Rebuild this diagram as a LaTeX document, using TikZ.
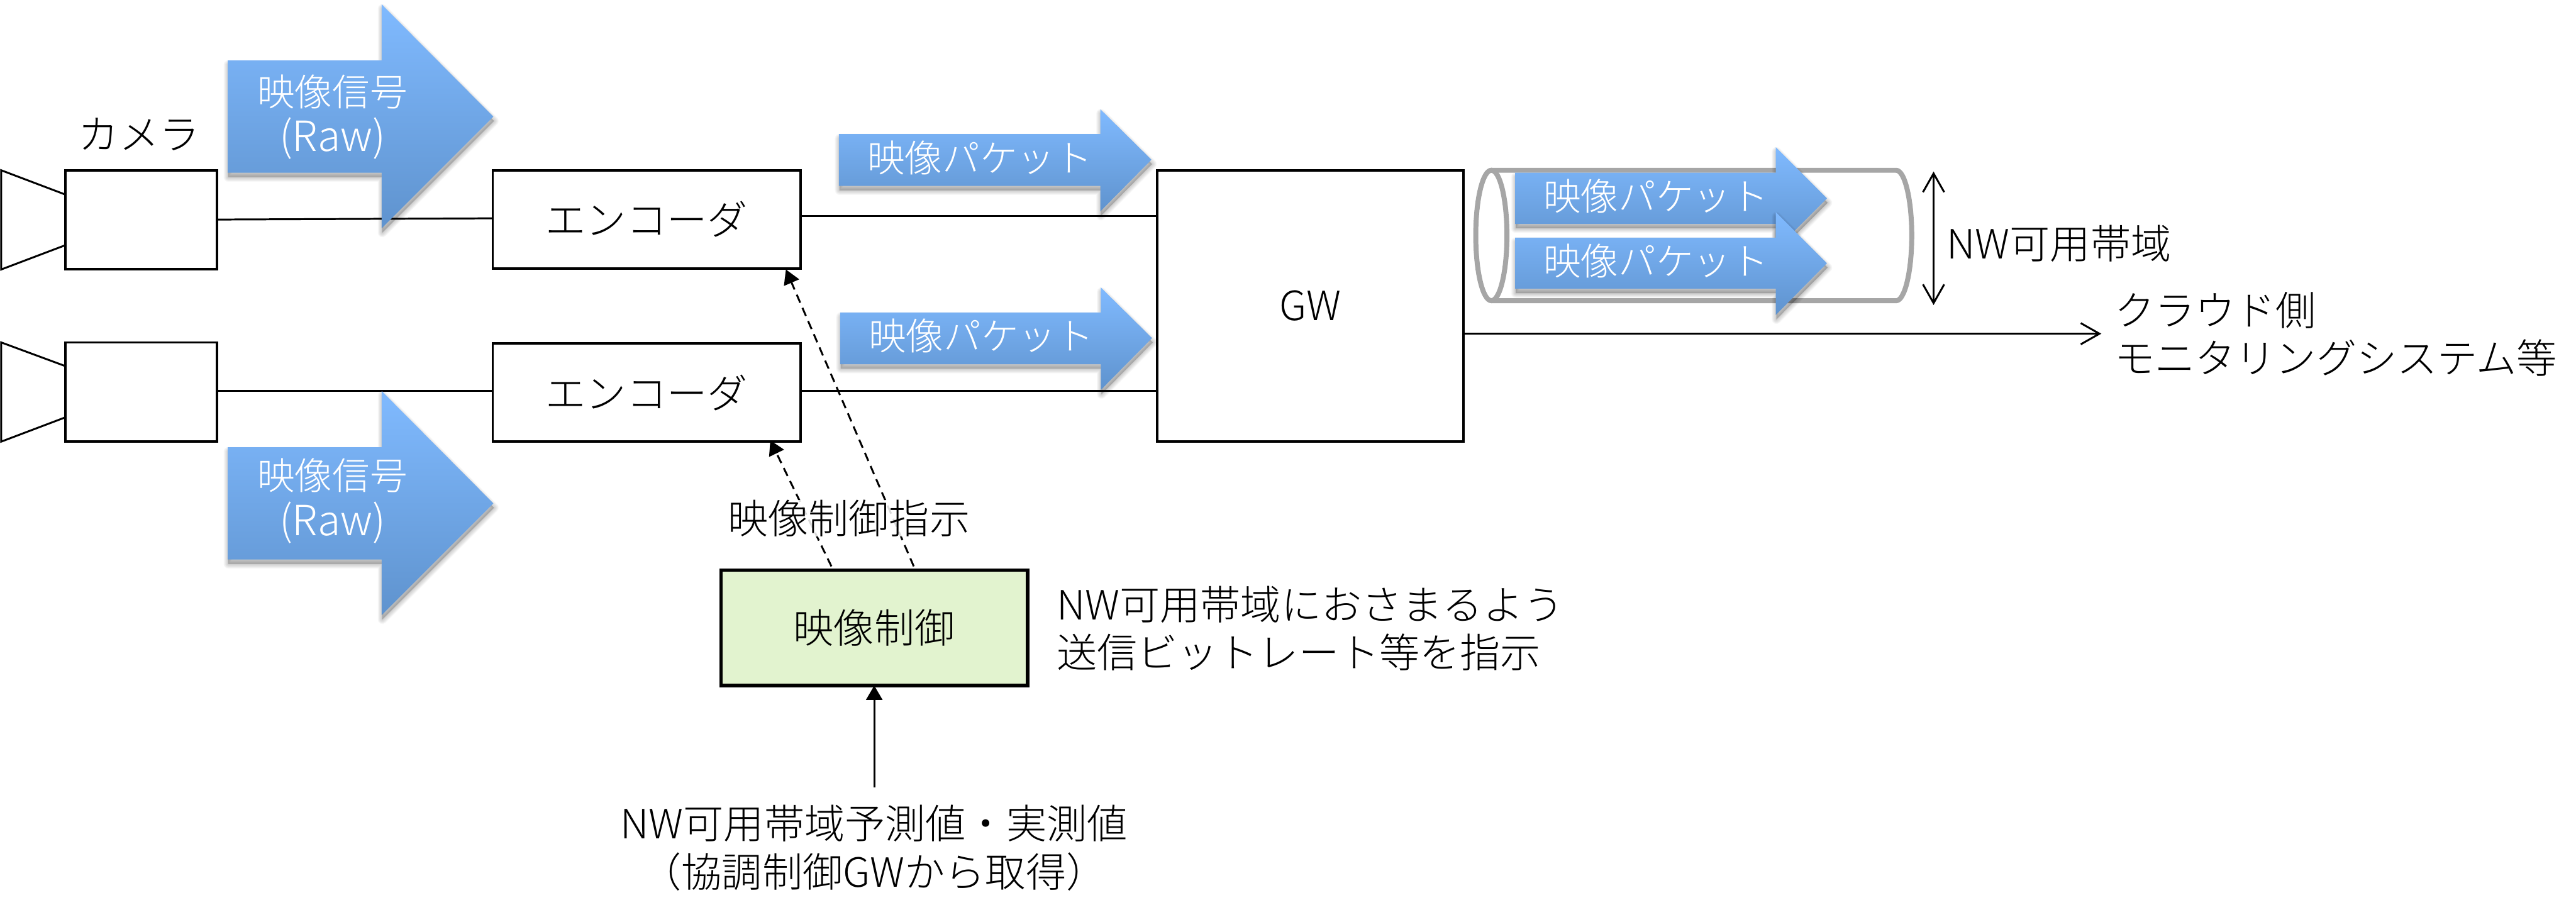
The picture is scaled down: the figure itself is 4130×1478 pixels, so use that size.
\documentclass[tikz,border=0pt]{standalone}
\usepackage{fontspec}
\setmainfont{Noto Sans CJK JP Light}
\usetikzlibrary{arrows.meta}
\definecolor{arrowtop}{HTML}{80BAFF}
\definecolor{arrowbot}{HTML}{5F93CE}
\definecolor{ctrlfill}{HTML}{E2F3CF}
\definecolor{pipegray}{HTML}{A6A6A6}
\newcommand{\blockarrow}[8]{%
  \foreach \lw in {.15cm,.13cm,.11cm,.09cm,.07cm,.05cm,.03cm,.01cm}{%
    \path[fill=black,draw=black,fill opacity=.028,draw opacity=.028,line width=\lw,line join=round,shift={(1,7)}]
      (#1,#5)--(#2,#5)--(#2,#4)--(#3,#8)--(#2,#7)--(#2,#6)--(#1,#6)--cycle;}%
  \shade[top color=arrowtop,bottom color=arrowbot]
      (#1,#5)--(#2,#5)--(#2,#4)--(#3,#8)--(#2,#7)--(#2,#6)--(#1,#6)--cycle;%
}
\tikzset{
  box/.style={draw=black,line width=.04cm,fill=white,anchor=north west,outer sep=0pt,inner sep=0pt},
  ctrlbox/.style={box,line width=.06cm,fill=ctrlfill},
  label/.style={inner sep=0pt,outer sep=0pt,font=\fontsize{18.4pt}{22pt}\selectfont},
  wlabel/.style={inner sep=0pt,outer sep=0pt,text=white,font=\fontsize{17.1pt}{20pt}\selectfont},
  rawlabel/.style={wlabel,font=\fontsize{19pt}{22pt}\selectfont},
  lbl/.style={label,anchor=west},
  wire/.style={draw=black,line width=.03cm},
  solidtip/.style={wire,-{Triangle[length=.23cm,width=.26cm]}},
  opentip/.style={wire,-{Straight Barb[length=.3cm,width=.34cm]}},
  bothtip/.style={wire,{Straight Barb[length=.3cm,width=.34cm]}-{Straight Barb[length=.3cm,width=.34cm]}},
  dashtip/.style={solidtip,dash pattern=on .14cm off .09cm},
  horn/.style={draw=black,line width=.03cm,line join=miter}
}
\begin{document}
\begin{tikzpicture}[x=.01cm,y=-.01cm]
\useasboundingbox (0,0) rectangle (4130,1478);
% cameras
\draw[horn] (105,312)--(2,273)--(2,432)--(105,393);
\draw[horn] (105,587)--(2,549)--(2,708)--(105,669);
\node[box,minimum width=2.43cm,minimum height=1.58cm] (cam1) at (105,273) {};
\node[box,minimum width=2.43cm,minimum height=1.59cm] (cam2) at (105,549) {};
\node[box,minimum width=4.93cm,minimum height=1.57cm] (enc1) at (790,273) {};
\node[box,minimum width=4.93cm,minimum height=1.57cm] (enc2) at (790,551) {};
\node[box,minimum width=4.91cm,minimum height=4.35cm] (gw) at (1855,273) {};
\node[ctrlbox,minimum width=4.91cm,minimum height=1.85cm] (ctrl) at (1156,914) {};
% wires
\coordinate (e1o) at (1283,346); \coordinate (g1i) at (1855,346);
\coordinate (e2o) at (1283,627); \coordinate (g2i) at (1855,627);
\coordinate (c2o) at (348,627);  \coordinate (e2i) at (790,627);
\coordinate (c1o) at (348,352);  \coordinate (e1i) at (790,350);
\coordinate (g3o) at (2346,535); \coordinate (cloud) at (3369,535);
\draw[wire] (c1o)--(e1i);
\draw[wire] (c2o)--(e2i);
\draw[wire] (e1o)--(g1i);
\draw[wire] (e2o)--(g2i);
\draw[opentip] (g3o)--(cloud);
% pipe
\draw[draw=pipegray,line width=.08cm,line join=round,fill=white]
  (2391,273)--(3040,273) arc[start angle=90,end angle=-90,x radius=.25cm,y radius=1.045cm] --(2391,482);
\draw[draw=pipegray,line width=.08cm] (2391,377.5) ellipse[x radius=.25cm,y radius=1.045cm];
% block arrows
\blockarrow{365}{612}{791}{7}{97}{277}{366}{187}
\blockarrow{365}{612}{791}{627}{717}{897}{986}{807}
\blockarrow{1345}{1764}{1846}{175}{215}{298}{339}{256}
\blockarrow{1347}{1765}{1847}{461}{501}{584}{625}{542}
\blockarrow{2429}{2847}{2929}{236}{277}{359}{400}{318}
\blockarrow{2429}{2847}{2929}{340}{381}{463}{505}{422}
% dashed and control arrows
\coordinate (ins1) at (1235,706);
\coordinate (ins2) at (1260,432);
\coordinate (d1) at (1333,908);
\coordinate (d2) at (1465,908);
\coordinate (meas) at (ctrl.south |- 0,1262);
\draw[dashtip] (d1)--(ins1);
\draw[dashtip] (d2)--(ins2);
\draw[solidtip] (meas)--(ctrl.south);
\coordinate (nwtop) at (3100,275); \coordinate (nwbot) at (3100,489);
\draw[bothtip] (nwtop)--(nwbot);
% texts
\node[label] (tcam) at (223,215) {カメラ};
\node[wlabel] (sig1) at (533,147) {映像信号};
\node[rawlabel] (raw1) at (533,222) {(Raw)};
\node[wlabel] (sig2) at (533,762) {映像信号};
\node[rawlabel] (raw2) at (533,838) {(Raw)};
\node[label] (tenc1) at (enc1.center) {エンコーダ};
\node[label] (tenc2) at (enc2.center) {エンコーダ};
\node[label] (tgw) at (gw.center) {GW};
\node[wlabel] (p1) at (1571,253) {映像パケット};
\node[wlabel] (p2) at (1573,538) {映像パケット};
\node[wlabel] (p3) at (2655,315) {映像パケット};
\node[wlabel] (p4) at (2655,418) {映像パケット};
\node[lbl] (tnw) at (3121,390) {NW可用帯域};
\node[lbl] (tcl1) at (3390,497) {クラウド側};
\node[lbl] (tcl2) at (3390,574) {モニタリングシステム等};
\node[label,fill=white,fill opacity=.85,text opacity=1] (tinst) at (1361,831) {映像制御指示};
\node[label] (tctrl) at (ctrl.center) {映像制御};
\node[lbl] (tn1) at (1694,969) {NW可用帯域におさまるよう};
\node[lbl] (tn2) at (1694,1046) {送信ビットレート等を指示};
\node[label] (tb1) at (1401,1320) {NW可用帯域予測値・実測値};
\node[label] (tb2) at (1401,1398) {（協調制御GWから取得）};
\end{tikzpicture}
\end{document}
